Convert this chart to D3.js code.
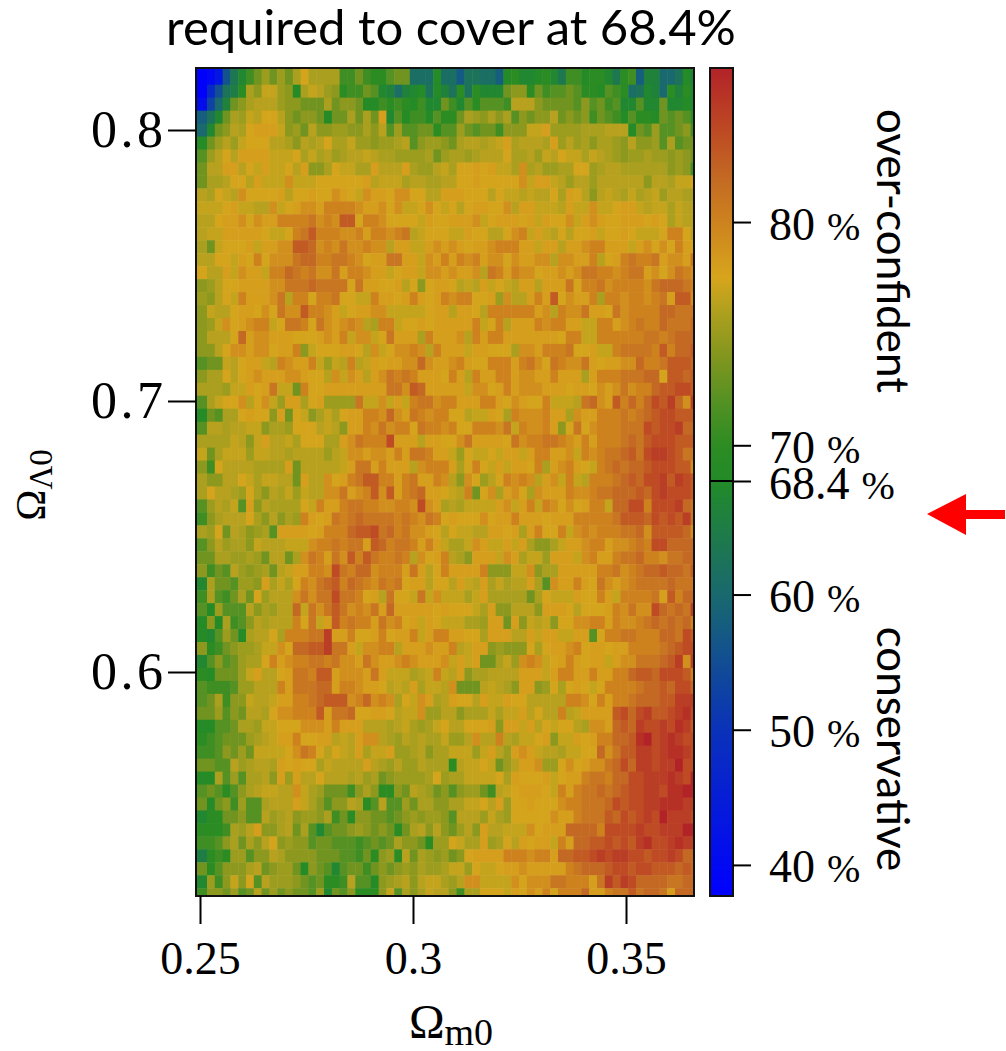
<!DOCTYPE html>
<html>
<head>
<meta charset="utf-8">
<script src="https://cdn.jsdelivr.net/npm/d3@7"></script>
<style>
body { margin: 0; background: #fff; }
svg { display: block; }
</style>
</head>
<body>
<div id="plot"></div>
<script>
// tick labels
const x_ticks = [0.25, 0.3, 0.35];
const y_ticks = [0.6, 0.7, 0.8];
const bar_ticks = [40, 50, 60, 68.4, 70, 80];

// colour bar, value and colour
const color_values = [37.7, 50, 60, 68.4, 70, 72, 74, 76, 77.5, 80, 82, 84, 87];
const color_list = ["#0000ff", "#0a32b9", "#19696e", "#228b28", "#2d8c23", "#559123", "#82961e", "#afa01e", "#d7a51c", "#cd821e", "#c36923", "#be4b23", "#b22328"];

// my readings of the cells ran low in the green and olive part of the bar
const read_values = [37, 60, 66, 70, 72, 74, 76, 78, 90];
const true_values = [37, 60, 67.5, 72, 74.5, 75.8, 76.8, 78, 90];

// coverage in percent, top row first, one row per line
const coverage_rows = [
[38,40,43,56,63,66,69,71,73,71,73,71,74,77,74,74,74,74,69,69,71,69,68,68,70,71,71,61,61,61,67,61,61,57,62,62,61,61,58,67,68,66,66,67,68,66,63,69,69,67,68,68,66,63,68,69,58,65,65,60,60,62,67,65],
[38,48,55,62,64,68,74,72,76,76,73,72,67,74,76,75,73,72,68,69,69,71,70,66,65,61,65,66,67,62,67,65,62,68,62,68,66,66,66,71,72,72,68,71,69,70,70,71,70,68,68,67,70,69,68,61,62,66,65,60,68,65,68,66],
[41,53,60,65,71,72,74,75,75,75,73,72,72,71,71,71,74,71,72,72,71,67,67,69,68,69,68,67,69,66,66,71,69,66,70,68,70,70,70,69,75,75,75,72,71,71,71,71,70,72,70,71,69,70,66,66,70,66,66,71,66,66,67,66],
[58,62,66,71,74,73,76,75,77,77,75,72,71,72,72,71,67,71,71,74,71,74,71,78,66,70,67,69,69,67,70,68,68,71,74,73,72,74,72,74,70,72,71,72,72,75,71,72,71,72,69,71,70,69,67,70,68,68,67,71,70,71,70,68],
[60,66,71,72,75,74,77,78,78,78,76,72,73,71,75,72,72,73,73,72,72,74,72,75,70,73,70,70,71,71,68,70,70,73,71,70,71,71,69,72,72,72,76,76,78,73,73,73,73,74,74,74,75,75,75,67,71,70,73,70,70,71,72,69],
[67,71,73,75,73,76,77,77,77,75,75,74,72,75,74,75,77,74,74,76,73,73,72,73,73,74,75,70,72,73,73,72,71,74,75,75,74,75,76,78,74,75,75,75,74,78,73,75,73,74,72,74,74,73,72,75,72,72,73,70,74,70,71,71],
[70,73,75,77,75,78,78,78,78,76,76,76,77,74,76,74,75,73,74,75,75,76,75,74,74,73,73,73,73,74,71,73,74,74,73,74,75,75,75,77,74,74,75,73,76,75,77,76,76,74,76,75,74,73,72,73,73,74,73,73,72,73,72,71],
[71,75,75,78,78,75,77,76,78,76,76,77,75,78,72,72,74,77,76,76,74,74,78,75,75,75,78,74,73,73,75,76,74,77,77,78,77,78,76,76,74,79,74,75,73,73,74,74,77,77,73,74,75,75,74,74,74,74,74,74,72,73,72,69],
[71,74,74,75,77,77,75,78,76,76,76,79,76,76,76,77,77,77,77,77,77,78,75,76,76,76,74,75,75,74,74,75,75,77,77,78,77,77,77,77,77,79,76,78,78,76,75,73,75,75,73,75,75,75,75,75,75,72,75,75,74,76,76,77],
[75,74,77,76,75,79,77,77,77,77,78,75,77,77,78,77,77,79,78,77,76,79,78,78,77,79,79,77,77,75,75,78,78,78,77,77,77,75,77,76,76,75,76,75,75,77,74,78,77,75,72,75,76,75,74,76,74,75,76,73,75,75,74,74],
[76,76,76,77,78,76,76,75,75,79,76,77,78,79,79,78,80,80,80,80,79,78,78,79,77,79,76,76,77,79,77,76,77,75,77,78,78,77,77,79,75,78,78,76,76,76,75,78,76,76,79,76,76,77,78,78,76,75,76,76,74,76,75,75],
[75,75,77,78,78,79,77,79,78,78,80,80,80,80,81,79,80,79,83,83,77,80,80,79,77,77,77,77,76,78,77,77,78,78,78,79,76,77,78,78,78,77,78,76,78,77,77,79,76,78,79,78,77,77,78,78,78,77,78,77,74,76,75,75],
[75,76,76,78,78,78,78,78,77,76,76,77,80,81,83,80,80,80,79,79,80,78,80,80,79,80,81,75,76,77,77,77,76,76,78,77,77,75,75,77,79,80,76,78,76,75,77,75,77,77,78,76,77,77,78,77,76,76,76,77,80,80,77,75],
[74,71,76,77,77,77,78,76,78,78,79,79,83,83,82,79,80,79,81,79,79,80,79,79,75,78,78,76,76,78,79,78,79,78,77,78,78,79,80,80,80,78,78,76,78,78,75,78,78,79,80,80,78,78,78,76,78,79,77,79,77,80,78,77],
[75,75,77,77,76,78,77,80,77,79,79,79,81,82,82,80,80,81,81,80,79,77,78,78,81,81,78,78,76,79,78,80,78,80,79,80,78,79,79,77,79,78,78,79,79,75,79,79,78,78,80,75,77,78,80,81,80,80,81,78,79,79,78,81],
[77,75,75,78,76,79,78,78,76,80,80,82,81,80,81,79,79,81,78,80,80,79,78,78,76,77,78,78,76,79,79,78,79,78,78,79,75,81,80,78,80,79,79,77,78,78,79,78,79,81,81,80,80,79,80,81,81,78,79,77,79,81,80,79],
[72,73,75,77,77,78,78,78,78,79,79,81,81,81,82,81,81,81,81,77,81,78,78,77,77,78,75,77,72,77,78,78,77,75,76,75,78,76,77,76,75,78,78,75,78,78,78,81,77,80,80,81,79,80,80,80,80,79,81,82,82,82,81,80],
[73,72,75,77,76,80,78,78,78,79,81,75,80,80,77,80,80,81,77,77,76,76,80,78,78,77,78,80,78,77,78,80,79,80,80,77,77,78,73,79,75,75,78,80,78,83,77,79,78,78,80,74,80,80,79,80,80,79,80,81,78,83,83,79],
[72,76,75,75,77,78,78,77,79,77,81,79,79,83,80,80,79,78,76,77,78,78,79,79,76,76,76,76,76,77,78,78,75,78,78,77,75,80,80,80,80,80,80,78,79,75,80,79,79,81,78,78,77,81,79,80,80,80,80,82,82,81,81,81],
[72,73,76,79,77,78,79,80,80,76,77,81,81,80,77,81,79,78,79,80,79,75,74,80,80,76,77,77,78,77,78,78,78,78,78,80,76,77,80,75,78,78,78,80,79,80,80,78,78,76,76,80,80,78,79,80,81,80,80,82,81,81,81,82],
[72,75,75,75,77,82,78,79,79,78,78,78,77,77,77,78,79,78,80,76,79,79,76,77,81,78,78,78,74,80,78,78,78,79,75,80,78,80,80,78,78,78,78,78,78,78,77,80,80,76,76,80,80,80,80,80,80,81,81,80,81,82,82,82],
[72,72,75,77,79,79,78,79,79,77,78,78,80,72,76,77,77,77,78,78,77,75,79,76,77,79,79,80,79,75,80,78,78,78,76,78,78,77,77,77,74,79,79,78,80,80,80,81,77,77,78,76,76,80,81,81,81,81,80,83,80,82,82,83],
[70,71,71,76,75,77,78,78,76,75,80,79,78,78,80,76,73,76,75,80,75,76,78,77,78,78,79,79,82,79,78,78,79,80,78,77,77,80,80,80,78,80,81,79,77,81,80,79,79,81,78,77,78,78,79,79,82,80,80,81,83,83,83,82],
[72,74,74,77,75,77,78,79,78,78,78,79,79,78,77,77,75,79,76,79,78,75,78,79,81,80,81,80,78,78,78,77,80,78,75,80,78,78,80,80,78,79,79,78,78,80,78,78,78,74,78,80,80,80,81,81,81,82,82,77,83,83,82,83],
[74,74,74,73,76,76,78,77,78,81,76,76,71,80,77,77,78,78,78,78,78,78,78,78,81,81,79,83,82,78,78,78,78,78,76,79,79,77,78,80,78,79,79,79,78,78,78,77,78,78,77,79,78,79,81,79,80,80,82,83,83,84,84,83],
[70,74,76,77,77,79,75,77,79,76,73,78,78,74,77,78,73,73,73,73,81,76,76,79,76,78,76,80,81,81,79,80,80,78,78,78,80,80,78,77,79,78,77,77,80,76,76,76,75,81,82,79,78,83,80,82,80,82,84,83,85,82,79,85],
[67,71,70,74,74,77,78,77,77,72,78,71,77,76,72,74,76,74,77,78,78,80,80,79,82,79,78,81,80,79,80,80,77,77,75,76,76,78,77,74,80,79,79,79,80,78,78,74,79,78,78,80,80,80,81,80,81,82,83,84,84,83,83,83],
[70,75,75,74,75,75,76,76,72,74,74,73,77,77,77,75,76,75,72,78,78,80,79,81,79,80,80,77,81,80,80,79,80,77,77,80,80,80,79,81,76,80,79,79,80,78,72,77,81,77,79,80,80,80,81,81,81,84,83,84,84,85,82,82],
[74,74,74,74,76,75,72,76,78,75,75,76,74,77,77,77,74,74,78,79,81,80,80,80,84,78,78,78,75,78,78,77,77,79,81,78,78,78,78,77,81,79,80,80,81,81,80,79,78,80,78,80,80,80,81,82,81,83,84,84,84,83,83,83],
[76,71,74,76,76,76,73,76,76,75,75,74,75,75,75,75,73,75,76,79,79,78,79,79,78,80,78,81,81,80,78,78,76,73,77,76,76,77,76,78,78,76,78,80,80,78,78,79,76,80,79,80,81,81,82,83,81,84,85,85,84,83,81,81],
[72,69,77,75,75,75,75,74,74,74,74,78,71,75,75,75,75,75,76,78,81,81,78,80,78,78,78,75,79,80,80,80,78,74,77,80,77,76,78,76,78,78,77,80,74,78,79,80,78,77,76,80,81,82,81,82,82,83,84,84,84,83,83,79],
[74,72,72,75,75,77,76,74,76,76,75,75,71,78,75,75,79,77,78,80,81,83,83,80,80,78,80,81,78,78,80,79,75,72,79,77,73,75,77,80,79,80,79,75,78,79,76,80,76,75,80,80,80,81,82,83,82,84,84,85,83,85,84,83],
[74,77,75,75,74,73,77,74,72,75,74,76,73,76,75,75,79,79,81,78,79,80,83,79,83,78,80,81,82,78,78,77,76,75,80,71,77,79,74,78,79,77,74,79,78,78,78,80,79,79,80,81,81,82,82,82,83,82,84,85,84,84,84,83],
[70,73,75,74,76,70,78,72,75,74,74,74,74,77,76,80,78,78,80,81,81,80,80,79,79,80,80,79,84,79,78,74,75,74,76,76,76,76,78,79,76,78,80,76,80,79,77,79,77,78,80,80,76,82,82,84,84,80,84,84,84,85,82,81],
[69,72,74,75,75,75,77,74,72,75,72,74,73,80,78,77,78,81,80,81,82,81,81,81,81,80,81,80,79,81,80,77,78,77,77,77,79,77,78,78,80,78,78,78,77,78,78,78,80,80,80,80,80,81,83,83,83,82,84,83,84,83,85,81],
[74,73,77,71,75,74,72,73,74,70,78,78,78,78,77,78,80,80,80,82,83,83,84,81,82,80,81,79,79,78,77,75,77,76,76,75,75,78,78,77,78,74,78,80,77,77,80,76,79,80,79,80,80,80,81,81,82,79,83,83,83,83,82,79],
[70,72,75,73,74,74,72,76,75,75,75,76,76,76,79,80,80,81,80,81,81,78,83,82,80,81,81,80,78,80,78,76,74,74,76,79,78,76,76,78,76,78,74,72,72,74,76,78,78,79,80,80,78,79,79,80,81,80,84,84,82,82,82,82],
[71,71,74,74,73,73,74,73,71,75,75,71,74,79,81,80,78,81,79,83,80,83,81,80,80,81,80,75,79,77,78,80,75,74,72,78,78,78,76,79,78,74,76,76,73,78,78,78,76,79,80,78,78,80,81,81,82,80,80,79,81,81,82,82],
[72,69,71,70,75,73,72,73,74,71,75,76,78,78,80,80,79,84,81,80,82,82,79,80,80,80,78,81,78,75,77,80,78,78,78,78,80,72,72,72,76,76,79,72,74,74,78,78,78,78,78,80,80,81,79,80,81,82,82,83,82,82,81,83],
[66,74,71,71,70,73,73,72,78,74,76,74,77,80,79,81,82,83,80,82,81,80,79,81,80,81,77,78,78,75,77,77,75,78,76,75,78,74,76,74,75,75,78,74,70,79,78,78,80,78,77,81,79,78,79,80,81,81,81,81,82,81,81,81],
[69,74,70,69,71,74,71,77,73,75,75,75,79,81,79,81,81,84,81,81,80,77,78,75,81,77,77,76,81,76,79,76,76,76,74,76,78,74,74,74,74,74,71,74,77,76,76,76,78,77,77,80,78,76,80,80,80,80,81,78,83,80,82,82],
[70,67,73,70,70,70,75,72,74,73,75,75,82,76,81,79,81,83,81,79,80,79,81,78,82,78,78,78,78,78,77,78,77,77,77,76,74,78,72,72,75,75,75,72,78,78,78,77,75,77,77,77,78,80,79,81,79,79,84,82,81,82,81,85],
[67,72,67,74,69,70,72,75,74,75,75,75,80,77,81,76,78,83,80,81,80,80,78,81,79,80,77,78,76,78,77,76,76,76,74,74,73,78,78,71,78,72,76,75,76,72,77,77,79,79,80,80,78,80,79,79,80,81,82,81,82,81,82,80],
[67,66,70,73,71,67,74,75,75,77,74,80,80,80,81,81,85,78,78,80,77,77,78,80,77,78,78,80,76,78,80,80,78,78,77,77,74,78,78,78,75,75,78,76,78,78,76,76,78,78,70,77,80,80,81,81,80,80,80,82,82,81,84,83],
[72,68,69,71,72,73,73,74,76,76,79,77,82,82,83,83,85,81,81,78,76,79,79,80,80,75,78,78,78,79,78,78,80,75,76,78,78,72,73,72,72,72,77,74,77,78,78,79,80,77,78,78,77,78,78,80,80,80,80,81,82,83,84,84],
[66,70,72,70,71,73,74,74,77,80,78,79,80,80,81,81,80,81,79,79,78,81,79,78,78,79,80,79,78,78,78,79,76,78,76,78,71,71,74,76,73,79,80,79,76,77,78,80,78,77,78,78,76,78,79,79,81,81,81,82,83,85,79,85],
[68,67,71,71,71,73,76,78,75,75,77,78,81,81,80,83,83,78,79,79,79,78,81,78,76,76,76,74,75,76,80,76,75,78,72,74,74,75,75,75,75,78,78,78,76,78,80,80,78,78,80,78,78,80,80,82,83,83,82,84,84,84,83,80],
[70,69,69,69,70,73,73,75,75,75,80,78,81,81,81,82,82,78,80,80,79,78,78,77,75,76,75,78,74,76,76,75,79,71,71,71,75,76,75,74,72,78,78,72,73,77,74,77,78,77,76,77,80,80,80,80,81,82,82,83,82,84,84,82],
[70,71,74,69,72,72,76,75,75,76,78,78,80,80,81,82,83,83,83,79,80,82,79,80,79,74,77,76,79,78,74,75,78,77,77,75,78,76,76,78,77,77,75,75,75,75,75,80,80,79,77,80,78,80,80,81,82,82,82,83,83,85,85,85],
[71,71,73,70,72,71,75,75,74,77,79,79,80,80,80,83,78,81,81,82,77,77,78,78,77,75,76,76,79,73,73,75,75,72,74,74,74,76,74,76,76,78,75,77,75,75,80,75,76,78,78,78,78,83,84,82,84,85,83,83,84,85,86,84],
[67,67,70,70,71,74,74,73,76,76,77,77,77,79,79,79,78,80,78,78,78,75,75,75,74,75,76,74,73,74,76,77,75,75,77,77,77,78,72,78,78,76,78,75,77,76,77,77,75,74,79,79,78,82,83,82,85,84,84,85,84,86,85,83],
[68,69,70,71,71,71,73,74,75,76,78,78,80,77,77,78,78,75,76,75,78,79,79,75,74,73,75,74,75,74,74,76,73,73,75,79,75,75,80,75,74,76,76,77,78,72,76,76,78,77,78,80,80,82,82,83,86,87,84,85,86,85,84,84],
[69,69,70,72,71,73,71,76,76,76,76,77,79,81,80,77,75,77,76,75,78,74,76,76,78,73,73,74,75,72,74,74,76,76,76,73,76,78,75,73,78,79,78,76,75,75,74,76,76,77,77,82,79,81,83,83,85,85,84,85,86,86,85,84],
[71,71,70,70,75,73,74,75,75,74,78,77,78,77,77,74,76,75,75,75,75,78,75,74,73,75,73,73,75,74,74,74,68,75,76,76,77,76,71,73,75,78,78,79,73,73,77,79,77,78,79,79,81,82,84,82,85,85,84,85,85,87,84,84],
[67,67,74,70,73,70,74,74,75,72,78,73,78,75,75,77,75,75,75,74,75,73,74,71,72,73,73,73,73,74,77,73,74,74,76,76,76,76,77,74,78,77,77,77,78,76,77,78,78,80,81,81,80,82,82,84,84,85,85,85,86,85,84,87],
[70,71,70,68,70,72,74,75,76,76,75,75,79,76,74,73,71,71,71,69,72,74,72,68,68,72,71,75,74,73,71,72,70,72,73,73,71,69,75,76,77,78,78,78,77,76,80,78,80,81,81,82,81,82,83,84,84,85,85,84,86,86,87,87],
[71,67,71,72,69,73,70,70,74,75,75,75,78,76,74,72,70,72,72,75,74,68,70,75,70,70,73,71,74,74,72,72,74,74,76,76,77,75,78,73,77,77,78,77,77,77,79,80,80,81,81,81,82,84,83,84,84,85,85,86,86,86,85,85],
[66,68,68,71,71,72,70,70,75,73,74,75,72,73,73,72,74,69,71,68,72,72,71,71,70,71,72,73,72,73,73,72,70,75,75,75,73,76,74,73,77,77,77,77,77,79,78,78,80,81,81,81,83,82,84,83,84,85,84,87,85,85,85,84],
[68,68,68,69,74,73,75,78,72,72,74,75,71,74,70,66,70,71,71,72,73,72,71,72,71,68,71,74,75,72,75,72,71,73,75,72,78,75,75,76,76,76,79,77,78,78,78,82,82,82,82,80,84,84,84,84,85,84,84,85,85,85,87,87],
[69,69,70,72,74,71,74,72,75,77,72,73,72,72,70,71,71,70,70,70,69,70,71,70,71,74,72,72,71,68,73,73,77,76,74,74,78,73,74,77,75,78,77,78,78,76,80,78,82,82,83,83,84,83,84,83,85,86,84,84,85,86,85,85],
[64,68,69,68,73,73,70,72,72,75,74,72,72,72,72,71,71,71,70,70,69,71,68,72,73,68,75,71,74,73,72,73,71,72,77,78,78,78,78,80,80,80,79,80,80,78,82,82,83,83,84,85,84,85,85,84,84,83,84,84,85,84,82,82],
[71,68,70,72,72,72,74,75,71,72,73,73,71,67,72,71,70,66,70,71,71,69,71,72,71,72,73,72,74,73,73,74,76,76,73,77,76,76,77,78,78,79,78,78,78,78,78,80,81,82,82,82,83,84,84,83,84,84,83,83,83,82,83,82],
[66,73,69,72,76,72,77,70,75,73,73,73,72,71,70,71,68,68,69,75,70,70,67,72,73,74,75,72,75,76,76,74,73,75,79,79,76,76,76,76,79,77,79,79,79,81,81,80,80,80,78,81,85,83,85,84,82,82,82,82,81,81,82,82],
[69,72,72,71,73,70,71,75,71,73,71,72,71,71,70,73,66,71,70,72,68,68,68,72,76,70,74,72,74,76,75,75,72,69,74,74,77,77,77,76,78,77,79,78,80,77,80,80,80,82,78,78,80,81,81,83,81,82,82,81,78,82,82,82]
];

const total_width = 1006;
const total_height = 1051;
const frame = {left: 196, right: 694, top: 68, bottom: 896};
const bar = {left: 710, right: 733};
const serif = "'Liberation Serif', 'Times New Roman', serif";
const sans = "Lato, sans-serif";

var svg = d3.select("#plot").append("svg").attr("width", total_width).attr("height", total_height);

svg.append("defs").append("clipPath").attr("id", "frame_clip").append("rect")
    .attr("x", frame.left).attr("y", frame.top)
    .attr("width", frame.right - frame.left).attr("height", frame.bottom - frame.top);

// scales
var x = d3.scaleLinear().domain([0.25, 0.35]).range([200, 626]);
var y = d3.scaleLinear().domain([0.6, 0.8]).range([672, 130]);
var bar_y = d3.scaleLinear().domain([37.7, 68.4, 86.9]).range([frame.bottom, 481, frame.top]);
var color = d3.scaleLinear().domain(color_values).range(color_list).clamp(true);
var read_fix = d3.scaleLinear().domain(read_values).range(true_values);

var col_x = d3.scaleBand().domain(d3.range(coverage_rows[0].length)).range([199.2, 698.4]);
var row_y = d3.scaleBand().domain(d3.range(coverage_rows.length)).range([71.74, 901.2]);

// heat map
var cells = svg.append("g").attr("clip-path", "url(#frame_clip)");
var rows = cells.selectAll("g").data(coverage_rows).join("g");
rows.selectAll("rect").data(function(d, i) { return d.map(function(v, j) { return {v: v, i: i, j: j}; }); })
    .join("rect")
    .attr("x", function(d) { return d.j == 0 ? frame.left : col_x(d.j); })
    .attr("y", function(d) { return d.i == 0 ? frame.top : row_y(d.i); })
    .attr("width", function(d) { return col_x.bandwidth() + (d.j == 0 ? col_x(0) - frame.left : 0) + 0.5; })
    .attr("height", function(d) { return row_y.bandwidth() + (d.i == 0 ? row_y(0) - frame.top : 0) + 0.5; })
    .attr("fill", function(d) { return color(read_fix(d.v)); });

svg.append("rect").attr("x", frame.left).attr("y", frame.top)
    .attr("width", frame.right - frame.left).attr("height", frame.bottom - frame.top)
    .attr("fill", "none").attr("stroke", "#111").attr("stroke-width", 2);

// colour bar
var gradient = svg.select("defs").append("linearGradient").attr("id", "bar_gradient")
    .attr("x1", 0).attr("x2", 0).attr("y1", 1).attr("y2", 0);
gradient.selectAll("stop").data(color_values).join("stop")
    .attr("offset", function(d) { return (frame.bottom - bar_y(Math.min(d, 86.9))) / (frame.bottom - frame.top); })
    .attr("stop-color", function(d) { return color(d); });

svg.append("rect").attr("x", bar.left).attr("y", frame.top)
    .attr("width", bar.right - bar.left).attr("height", frame.bottom - frame.top)
    .attr("fill", "url(#bar_gradient)").attr("stroke", "#111").attr("stroke-width", 2);

// axes
function style_axis(g) {
    g.select(".domain").remove();
    g.selectAll("line").attr("stroke", "#000").attr("stroke-width", 2);
    g.selectAll("text").attr("fill", "#000").style("font-family", serif).style("font-size", "46px");
}

svg.append("g").attr("transform", "translate(0," + frame.bottom + ")")
    .call(d3.axisBottom(x).tickValues(x_ticks).tickFormat(function(d) { return String(d); }).tickSize(28).tickPadding(17))
    .call(style_axis);

svg.append("g").attr("transform", "translate(" + frame.left + ",0)")
    .call(d3.axisLeft(y).tickValues(y_ticks).tickFormat(d3.format(".1f")).tickSize(28).tickPadding(1.5))
    .call(style_axis)
    .selectAll("text").style("font-size", "52px").style("letter-spacing", "3.5px");

var bar_axis = svg.append("g").attr("transform", "translate(" + bar.right + ",0)")
    .call(d3.axisRight(bar_y).tickValues(bar_ticks).tickSize(18).tickPadding(18))
    .call(style_axis);

bar_axis.selectAll("text").text(null).attr("dy", "0.37em").each(function(d) {
    var t = d3.select(this);
    t.append("tspan").text(d);
    t.append("tspan").attr("dx", 12).style("font-size", "40px").text("%");
});

// 68.4 % line runs across the bar
svg.append("line").attr("x1", bar.left).attr("x2", bar.right).attr("y1", bar_y(68.4)).attr("y2", bar_y(68.4))
    .attr("stroke", "#000").attr("stroke-width", 2);

// titles
svg.append("text").attr("x", 451).attr("y", 45).attr("text-anchor", "middle")
    .style("font-family", sans).style("font-size", "49px").text("required to cover at 68.4%");

function omega_label(sel, sub, size, sub_size) {
    sel.style("font-family", serif).style("font-size", size + "px").attr("text-anchor", "middle");
    sel.append("tspan").text("\u03A9");
    sel.append("tspan").attr("dy", 7).style("font-size", sub_size + "px").text(sub);
}

svg.append("text").attr("x", 451).attr("y", 1038).call(omega_label, "m0", 48, 38);
svg.append("text").attr("transform", "translate(45,485) rotate(-90)").call(omega_label, "\u039B0", 42, 33);

svg.append("text").attr("transform", "translate(877,251) rotate(90)").attr("text-anchor", "middle")
    .style("font-family", sans).style("font-size", "44px").text("over-confident");
svg.append("text").attr("transform", "translate(877,749) rotate(90)").attr("text-anchor", "middle")
    .style("font-family", sans).style("font-size", "44px").text("conservative");

// red arrow
svg.append("path").attr("d", "M1005,510 L966,510 L966,494 L927,514 L966,535 L966,519 L1005,519 Z").attr("fill", "#f00");
</script>
</body>
</html>
